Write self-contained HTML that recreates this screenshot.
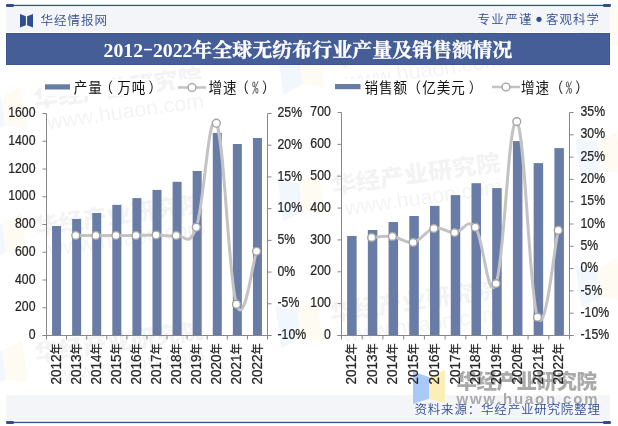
<!DOCTYPE html>
<html><head><meta charset="utf-8"><style>
html,body{margin:0;padding:0;background:#fff;}
text{text-spacing-trim:space-all;font-kerning:none;}
body{width:618px;height:426px;overflow:hidden;position:relative;}
svg{position:absolute;left:0;top:0;display:block;}
.ax{font-family:"Liberation Sans","Noto Sans CJK SC",sans-serif;font-size:14.5px;fill:#262626;stroke:#262626;stroke-width:0.25px;}
.lg{font-family:"Liberation Sans","Noto Sans CJK SC",sans-serif;font-size:14.3px;letter-spacing:0.96px;fill:#111;}
.pc{font-family:"IPAGothic",sans-serif;fill:#555;}
.hd{font-family:"Liberation Sans","Noto Sans CJK SC",sans-serif;font-size:12.5px;font-weight:350;fill:#2f4d8f;}
.tt{font-family:"Liberation Serif","Noto Serif CJK SC",serif;font-size:19.5px;font-weight:bold;fill:#fff;}
.nian{font-size:12px;}
.hy{font-family:"IPAGothic",sans-serif;font-weight:normal;}
.ttc{font-family:"Noto Serif CJK SC",serif;font-weight:700;stroke:#fff;stroke-width:0.35px;}
.wm{font-family:"Liberation Sans","Noto Sans CJK SC",sans-serif;}
</style></head><body>
<svg width="618" height="426" viewBox="0 0 618 426">
<rect width="618" height="426" fill="#fff"/>
<g transform="translate(35,108) rotate(-8)"><g opacity="0.22"><path d="M-53,-22.5 L-32.0,-15.46 L-32.0,12.96 L-53,20 Z" fill="#c9dbf8"/><path d="M-11,-24 L-32.0,-15.46 L-32.0,12.96 L-11,19.5 Z" fill="#fcf0c8"/></g><g opacity="0.042"><text x="0" y="0" class="wm" font-size="23" font-weight="900" textLength="170" lengthAdjust="spacingAndGlyphs">华经产业研究院</text><text x="10" y="23" class="wm" font-size="21" font-weight="400" textLength="158" lengthAdjust="spacingAndGlyphs">www.huaon.com</text></g></g><g transform="translate(36,235) rotate(-8)"><g opacity="0.22"><path d="M-53,-22.5 L-32.0,-15.46 L-32.0,12.96 L-53,20 Z" fill="#c9dbf8"/><path d="M-11,-24 L-32.0,-15.46 L-32.0,12.96 L-11,19.5 Z" fill="#fcf0c8"/></g><g opacity="0.042"><text x="0" y="0" class="wm" font-size="23" font-weight="900" textLength="170" lengthAdjust="spacingAndGlyphs">华经产业研究院</text><text x="10" y="23" class="wm" font-size="21" font-weight="400" textLength="158" lengthAdjust="spacingAndGlyphs">www.huaon.com</text></g></g><g transform="translate(36,362) rotate(-8)"><g opacity="0.22"><path d="M-53,-22.5 L-32.0,-15.46 L-32.0,12.96 L-53,20 Z" fill="#c9dbf8"/><path d="M-11,-24 L-32.0,-15.46 L-32.0,12.96 L-11,19.5 Z" fill="#fcf0c8"/></g><g opacity="0.042"><text x="0" y="0" class="wm" font-size="23" font-weight="900" textLength="170" lengthAdjust="spacingAndGlyphs">华经产业研究院</text><text x="10" y="23" class="wm" font-size="21" font-weight="400" textLength="158" lengthAdjust="spacingAndGlyphs">www.huaon.com</text></g></g><g transform="translate(333,194) rotate(-8)"><g opacity="0.22"><path d="M-53,-22.5 L-32.0,-15.46 L-32.0,12.96 L-53,20 Z" fill="#c9dbf8"/><path d="M-11,-24 L-32.0,-15.46 L-32.0,12.96 L-11,19.5 Z" fill="#fcf0c8"/></g><g opacity="0.042"><text x="0" y="0" class="wm" font-size="23" font-weight="900" textLength="170" lengthAdjust="spacingAndGlyphs">华经产业研究院</text><text x="10" y="23" class="wm" font-size="21" font-weight="400" textLength="158" lengthAdjust="spacingAndGlyphs">www.huaon.com</text></g></g><g transform="translate(331,321) rotate(-8)"><g opacity="0.22"><path d="M-53,-22.5 L-32.0,-15.46 L-32.0,12.96 L-53,20 Z" fill="#c9dbf8"/><path d="M-11,-24 L-32.0,-15.46 L-32.0,12.96 L-11,19.5 Z" fill="#fcf0c8"/></g><g opacity="0.042"><text x="0" y="0" class="wm" font-size="23" font-weight="900" textLength="170" lengthAdjust="spacingAndGlyphs">华经产业研究院</text><text x="10" y="23" class="wm" font-size="21" font-weight="400" textLength="158" lengthAdjust="spacingAndGlyphs">www.huaon.com</text></g></g><g transform="translate(333,67) rotate(-8)"><g opacity="0.22"><path d="M-53,-22.5 L-32.0,-15.46 L-32.0,12.96 L-53,20 Z" fill="#c9dbf8"/><path d="M-11,-24 L-32.0,-15.46 L-32.0,12.96 L-11,19.5 Z" fill="#fcf0c8"/></g><g opacity="0.042"><text x="0" y="0" class="wm" font-size="23" font-weight="900" textLength="170" lengthAdjust="spacingAndGlyphs">华经产业研究院</text><text x="10" y="23" class="wm" font-size="21" font-weight="400" textLength="158" lengthAdjust="spacingAndGlyphs">www.huaon.com</text></g></g><g transform="translate(631,153) rotate(-8)"><g opacity="0.22"><path d="M-53,-22.5 L-32.0,-15.46 L-32.0,12.96 L-53,20 Z" fill="#c9dbf8"/><path d="M-11,-24 L-32.0,-15.46 L-32.0,12.96 L-11,19.5 Z" fill="#fcf0c8"/></g><g opacity="0.042"><text x="0" y="0" class="wm" font-size="23" font-weight="900" textLength="170" lengthAdjust="spacingAndGlyphs">华经产业研究院</text><text x="10" y="23" class="wm" font-size="21" font-weight="400" textLength="158" lengthAdjust="spacingAndGlyphs">www.huaon.com</text></g></g><g transform="translate(631,280) rotate(-8)"><g opacity="0.22"><path d="M-53,-22.5 L-32.0,-15.46 L-32.0,12.96 L-53,20 Z" fill="#c9dbf8"/><path d="M-11,-24 L-32.0,-15.46 L-32.0,12.96 L-11,19.5 Z" fill="#fcf0c8"/></g><g opacity="0.042"><text x="0" y="0" class="wm" font-size="23" font-weight="900" textLength="170" lengthAdjust="spacingAndGlyphs">华经产业研究院</text><text x="10" y="23" class="wm" font-size="21" font-weight="400" textLength="158" lengthAdjust="spacingAndGlyphs">www.huaon.com</text></g></g><g transform="translate(631,26) rotate(-8)"><g opacity="0.22"><path d="M-53,-22.5 L-32.0,-15.46 L-32.0,12.96 L-53,20 Z" fill="#c9dbf8"/><path d="M-11,-24 L-32.0,-15.46 L-32.0,12.96 L-11,19.5 Z" fill="#fcf0c8"/></g><g opacity="0.042"><text x="0" y="0" class="wm" font-size="23" font-weight="900" textLength="170" lengthAdjust="spacingAndGlyphs">华经产业研究院</text><text x="10" y="23" class="wm" font-size="21" font-weight="400" textLength="158" lengthAdjust="spacingAndGlyphs">www.huaon.com</text></g></g>
<rect x="6" y="7" width="604" height="25" fill="#f4f5f9"/>
<rect x="6" y="4.8" width="604" height="1.3" fill="#2f4d8f"/>
<rect x="6" y="4" width="8" height="3" rx="1.2" fill="#2f4d8f"/>
<rect x="603" y="4" width="8" height="3" rx="1.2" fill="#2f4d8f"/>
<g opacity="1.0"><path d="M20,14 L25.9,16.295 L25.9,25.205 L20,27.5 Z" fill="#2f4d8f"/><path d="M33,14 L27.1,16.295 L27.1,25.205 L33,27.5 Z" fill="#2f4d8f"/></g>
<text x="40.5" y="24.6" class="hd" textLength="66.5" lengthAdjust="spacing">华经情报网</text>
<text x="477.5" y="24.3" class="hd" textLength="54" lengthAdjust="spacing">专业严谨</text>
<circle cx="539" cy="19.3" r="2.6" fill="#2f4d8f"/>
<text x="546" y="24.3" class="hd" textLength="53" lengthAdjust="spacing">客观科学</text>
<rect x="6.5" y="33.5" width="603" height="31" fill="#465e97" stroke="#3e5690" stroke-width="1"/>
<text x="103.5" y="57" class="tt"><tspan textLength="89" lengthAdjust="spacingAndGlyphs">2012<tspan class="hy">-</tspan>2022</tspan><tspan x="192.3" class="ttc" textLength="320" lengthAdjust="spacingAndGlyphs">年全球无纺布行业产量及销售额情况</tspan></text>
<rect x="6" y="395" width="604" height="25" fill="#f4f5f9"/>
<g opacity="1.0"><path d="M413,371.5 L429.0,376.94 L429.0,398.56 L413,404 Z" fill="#a9c9f7"/><path d="M445,370 L429.0,376.94 L429.0,398.56 L445,403.5 Z" fill="#fbeeb6"/></g><text x="456.5" y="388.5" class="wm" font-size="20.5" font-weight="900" fill="#aaaaaa" textLength="140.5" lengthAdjust="spacing">华经产业研究院</text><text x="456.5" y="403.5" class="wm" font-size="15" font-weight="700" fill="#aaaaaa" textLength="141" lengthAdjust="spacing">www.huaon.com</text>
<rect x="6" y="421.8" width="604" height="1.3" fill="#2f4d8f"/>
<rect x="6" y="421" width="8" height="3" rx="1.2" fill="#2f4d8f"/>
<rect x="603" y="421" width="8" height="3" rx="1.2" fill="#2f4d8f"/>
<text x="414.5" y="413.8" class="hd" textLength="185.5" lengthAdjust="spacing">资料来源：华经产业研究院整理</text>
<rect x="42" y="79" width="114" height="17" fill="#fff"/>
<rect x="175" y="79" width="94" height="17" fill="#fff"/>
<rect x="331" y="79" width="144" height="17" fill="#fff"/>
<rect x="489" y="79" width="94" height="17" fill="#fff"/>
<rect x="45" y="84.3" width="25" height="5.2" fill="#687ca6"/>
<text transform="translate(73.8,92.8) scale(0.95,1)" class="lg">产量<tspan dx="-3.47">（</tspan><tspan dx="3.47">万吨</tspan><tspan dx="2.32">）</tspan></text>
<path d="M178,87.5 H206" stroke="#c3c3c3" stroke-width="2.5"/><circle cx="192.0" cy="87.5" r="3.9" fill="#fff" stroke="#a3a3a3" stroke-width="1.4"/>
<text transform="translate(208.6,92.8) scale(0.95,1)" class="lg">增速<tspan dx="-2.42">（</tspan><tspan class="pc" dx="2.42">%</tspan><tspan dx="2.32">）</tspan></text>
<rect x="335" y="84" width="25.5" height="5.2" fill="#687ca6"/>
<text transform="translate(364.4,92.8) scale(0.95,1)" class="lg">销售额<tspan dx="-0.53">（</tspan><tspan dx="0.53">亿美元</tspan><tspan dx="3.05">）</tspan></text>
<path d="M492,87 H520" stroke="#c3c3c3" stroke-width="2.5"/><circle cx="506.0" cy="87" r="3.9" fill="#fff" stroke="#a3a3a3" stroke-width="1.4"/>
<text transform="translate(521,92.8) scale(0.95,1)" class="lg">增速<tspan dx="-0.32">（</tspan><tspan class="pc" dx="1.37">%</tspan><tspan dx="2.21">）</tspan></text>
<rect x="52.05" y="226.00" width="9.00" height="109.50" fill="#687ca6"/>
<rect x="72.14" y="219.00" width="9.00" height="116.50" fill="#687ca6"/>
<rect x="92.23" y="213.00" width="9.00" height="122.50" fill="#687ca6"/>
<rect x="112.32" y="204.90" width="9.00" height="130.60" fill="#687ca6"/>
<rect x="132.41" y="198.10" width="9.00" height="137.40" fill="#687ca6"/>
<rect x="152.50" y="189.90" width="9.00" height="145.60" fill="#687ca6"/>
<rect x="172.59" y="181.80" width="9.00" height="153.70" fill="#687ca6"/>
<rect x="192.68" y="171.00" width="9.00" height="164.50" fill="#687ca6"/>
<rect x="212.77" y="132.90" width="9.00" height="202.60" fill="#687ca6"/>
<rect x="232.86" y="144.00" width="9.00" height="191.50" fill="#687ca6"/>
<rect x="252.95" y="138.00" width="9.00" height="197.50" fill="#687ca6"/>
<path d="M46.5,113.5 V335.5 M267.5,113.5 V335.5 M42.5,335.5 H271.5" stroke="#878787" stroke-width="1" fill="none"/>
<path d="M42.5,335.50 H46.5 M42.5,307.75 H46.5 M42.5,280.00 H46.5 M42.5,252.25 H46.5 M42.5,224.50 H46.5 M42.5,196.75 H46.5 M42.5,169.00 H46.5 M42.5,141.25 H46.5 M42.5,113.50 H46.5 M267.5,335.50 H271.5 M267.5,303.79 H271.5 M267.5,272.07 H271.5 M267.5,240.36 H271.5 M267.5,208.64 H271.5 M267.5,176.93 H271.5 M267.5,145.21 H271.5 M267.5,113.50 H271.5 M46.50,335.5 V339.5 M66.59,335.5 V339.5 M86.68,335.5 V339.5 M106.77,335.5 V339.5 M126.86,335.5 V339.5 M146.95,335.5 V339.5 M167.05,335.5 V339.5 M187.14,335.5 V339.5 M207.23,335.5 V339.5 M227.32,335.5 V339.5 M247.41,335.5 V339.5 M267.50,335.5 V339.5" stroke="#878787" stroke-width="1" fill="none"/>
<text transform="translate(35.5,339.10) scale(0.847,1)" text-anchor="end" class="ax">0</text>
<text transform="translate(35.5,311.35) scale(0.847,1)" text-anchor="end" class="ax">200</text>
<text transform="translate(35.5,283.60) scale(0.847,1)" text-anchor="end" class="ax">400</text>
<text transform="translate(35.5,255.85) scale(0.847,1)" text-anchor="end" class="ax">600</text>
<text transform="translate(35.5,228.10) scale(0.847,1)" text-anchor="end" class="ax">800</text>
<text transform="translate(35.5,200.35) scale(0.847,1)" text-anchor="end" class="ax">1000</text>
<text transform="translate(35.5,172.60) scale(0.847,1)" text-anchor="end" class="ax">1200</text>
<text transform="translate(35.5,144.85) scale(0.847,1)" text-anchor="end" class="ax">1400</text>
<text transform="translate(35.5,117.10) scale(0.847,1)" text-anchor="end" class="ax">1600</text>
<text transform="translate(277.5,339.10) scale(0.847,1)" class="ax">-10%</text>
<text transform="translate(277.5,307.39) scale(0.847,1)" class="ax">-5%</text>
<text transform="translate(277.5,275.67) scale(0.847,1)" class="ax">0%</text>
<text transform="translate(277.5,243.96) scale(0.847,1)" class="ax">5%</text>
<text transform="translate(277.5,212.24) scale(0.847,1)" class="ax">10%</text>
<text transform="translate(277.5,180.53) scale(0.847,1)" class="ax">15%</text>
<text transform="translate(277.5,148.81) scale(0.847,1)" class="ax">20%</text>
<text transform="translate(277.5,117.10) scale(0.847,1)" class="ax">25%</text>
<text transform="translate(60.65,343.3) rotate(-90) scale(0.93,1)" text-anchor="end" class="ax">2012<tspan class="nian">年</tspan></text>
<text transform="translate(80.74,343.3) rotate(-90) scale(0.93,1)" text-anchor="end" class="ax">2013<tspan class="nian">年</tspan></text>
<text transform="translate(100.83,343.3) rotate(-90) scale(0.93,1)" text-anchor="end" class="ax">2014<tspan class="nian">年</tspan></text>
<text transform="translate(120.92,343.3) rotate(-90) scale(0.93,1)" text-anchor="end" class="ax">2015<tspan class="nian">年</tspan></text>
<text transform="translate(141.01,343.3) rotate(-90) scale(0.93,1)" text-anchor="end" class="ax">2016<tspan class="nian">年</tspan></text>
<text transform="translate(161.10,343.3) rotate(-90) scale(0.93,1)" text-anchor="end" class="ax">2017<tspan class="nian">年</tspan></text>
<text transform="translate(181.19,343.3) rotate(-90) scale(0.93,1)" text-anchor="end" class="ax">2018<tspan class="nian">年</tspan></text>
<text transform="translate(201.28,343.3) rotate(-90) scale(0.93,1)" text-anchor="end" class="ax">2019<tspan class="nian">年</tspan></text>
<text transform="translate(221.37,343.3) rotate(-90) scale(0.93,1)" text-anchor="end" class="ax">2020<tspan class="nian">年</tspan></text>
<text transform="translate(241.46,343.3) rotate(-90) scale(0.93,1)" text-anchor="end" class="ax">2021<tspan class="nian">年</tspan></text>
<text transform="translate(261.55,343.3) rotate(-90) scale(0.93,1)" text-anchor="end" class="ax">2022<tspan class="nian">年</tspan></text>
<path d="M75.74,235.40 C79.75,235.40 87.79,235.40 95.83,235.40 C103.86,235.40 107.88,235.40 115.92,235.40 C123.95,235.40 127.97,235.48 136.01,235.40 C144.05,235.32 148.06,235.00 156.10,235.00 C164.14,235.00 168.15,236.94 176.19,235.40 C184.23,233.86 188.25,249.74 196.28,227.30 C204.32,204.86 208.34,107.82 216.37,123.20 C224.41,138.58 228.43,278.58 236.46,304.20 C244.50,329.82 252.54,261.88 256.55,251.30" stroke="#c3c3c3" stroke-width="3.0" fill="none" stroke-linejoin="round"/>
<circle cx="75.74" cy="235.40" r="3.9" fill="#fff" stroke="#a3a3a3" stroke-width="1.4"/>
<circle cx="95.83" cy="235.40" r="3.9" fill="#fff" stroke="#a3a3a3" stroke-width="1.4"/>
<circle cx="115.92" cy="235.40" r="3.9" fill="#fff" stroke="#a3a3a3" stroke-width="1.4"/>
<circle cx="136.01" cy="235.40" r="3.9" fill="#fff" stroke="#a3a3a3" stroke-width="1.4"/>
<circle cx="156.10" cy="235.00" r="3.9" fill="#fff" stroke="#a3a3a3" stroke-width="1.4"/>
<circle cx="176.19" cy="235.40" r="3.9" fill="#fff" stroke="#a3a3a3" stroke-width="1.4"/>
<circle cx="196.28" cy="227.30" r="3.9" fill="#fff" stroke="#a3a3a3" stroke-width="1.4"/>
<circle cx="216.37" cy="123.20" r="3.9" fill="#fff" stroke="#a3a3a3" stroke-width="1.4"/>
<circle cx="236.46" cy="304.20" r="3.9" fill="#fff" stroke="#a3a3a3" stroke-width="1.4"/>
<circle cx="256.55" cy="251.30" r="3.9" fill="#fff" stroke="#a3a3a3" stroke-width="1.4"/>
<rect x="347.11" y="236.00" width="9.50" height="99.50" fill="#687ca6"/>
<rect x="367.84" y="230.00" width="9.50" height="105.50" fill="#687ca6"/>
<rect x="388.57" y="222.00" width="9.50" height="113.50" fill="#687ca6"/>
<rect x="409.30" y="216.00" width="9.50" height="119.50" fill="#687ca6"/>
<rect x="430.02" y="205.90" width="9.50" height="129.60" fill="#687ca6"/>
<rect x="450.75" y="195.10" width="9.50" height="140.40" fill="#687ca6"/>
<rect x="471.48" y="183.20" width="9.50" height="152.30" fill="#687ca6"/>
<rect x="492.20" y="188.10" width="9.50" height="147.40" fill="#687ca6"/>
<rect x="512.93" y="141.10" width="9.50" height="194.40" fill="#687ca6"/>
<rect x="533.66" y="163.10" width="9.50" height="172.40" fill="#687ca6"/>
<rect x="554.39" y="148.10" width="9.50" height="187.40" fill="#687ca6"/>
<path d="M341.5,112.5 V335.5 M569.5,112.5 V335.5 M337.5,335.5 H573.5" stroke="#878787" stroke-width="1" fill="none"/>
<path d="M337.5,335.50 H341.5 M337.5,303.64 H341.5 M337.5,271.79 H341.5 M337.5,239.93 H341.5 M337.5,208.07 H341.5 M337.5,176.21 H341.5 M337.5,144.36 H341.5 M337.5,112.50 H341.5 M569.5,335.50 H573.5 M569.5,313.20 H573.5 M569.5,290.90 H573.5 M569.5,268.60 H573.5 M569.5,246.30 H573.5 M569.5,224.00 H573.5 M569.5,201.70 H573.5 M569.5,179.40 H573.5 M569.5,157.10 H573.5 M569.5,134.80 H573.5 M569.5,112.50 H573.5 M341.50,335.5 V339.5 M362.23,335.5 V339.5 M382.95,335.5 V339.5 M403.68,335.5 V339.5 M424.41,335.5 V339.5 M445.14,335.5 V339.5 M465.86,335.5 V339.5 M486.59,335.5 V339.5 M507.32,335.5 V339.5 M528.05,335.5 V339.5 M548.77,335.5 V339.5 M569.50,335.5 V339.5" stroke="#878787" stroke-width="1" fill="none"/>
<text transform="translate(330.8,339.10) scale(0.847,1)" text-anchor="end" class="ax">0</text>
<text transform="translate(330.8,307.24) scale(0.847,1)" text-anchor="end" class="ax">100</text>
<text transform="translate(330.8,275.39) scale(0.847,1)" text-anchor="end" class="ax">200</text>
<text transform="translate(330.8,243.53) scale(0.847,1)" text-anchor="end" class="ax">300</text>
<text transform="translate(330.8,211.67) scale(0.847,1)" text-anchor="end" class="ax">400</text>
<text transform="translate(330.8,179.81) scale(0.847,1)" text-anchor="end" class="ax">500</text>
<text transform="translate(330.8,147.96) scale(0.847,1)" text-anchor="end" class="ax">600</text>
<text transform="translate(330.8,116.10) scale(0.847,1)" text-anchor="end" class="ax">700</text>
<text transform="translate(580.5,339.10) scale(0.847,1)" class="ax">-15%</text>
<text transform="translate(580.5,316.80) scale(0.847,1)" class="ax">-10%</text>
<text transform="translate(580.5,294.50) scale(0.847,1)" class="ax">-5%</text>
<text transform="translate(580.5,272.20) scale(0.847,1)" class="ax">0%</text>
<text transform="translate(580.5,249.90) scale(0.847,1)" class="ax">5%</text>
<text transform="translate(580.5,227.60) scale(0.847,1)" class="ax">10%</text>
<text transform="translate(580.5,205.30) scale(0.847,1)" class="ax">15%</text>
<text transform="translate(580.5,183.00) scale(0.847,1)" class="ax">20%</text>
<text transform="translate(580.5,160.70) scale(0.847,1)" class="ax">25%</text>
<text transform="translate(580.5,138.40) scale(0.847,1)" class="ax">30%</text>
<text transform="translate(580.5,116.10) scale(0.847,1)" class="ax">35%</text>
<text transform="translate(355.96,343.3) rotate(-90) scale(0.93,1)" text-anchor="end" class="ax">2012<tspan class="nian">年</tspan></text>
<text transform="translate(376.69,343.3) rotate(-90) scale(0.93,1)" text-anchor="end" class="ax">2013<tspan class="nian">年</tspan></text>
<text transform="translate(397.42,343.3) rotate(-90) scale(0.93,1)" text-anchor="end" class="ax">2014<tspan class="nian">年</tspan></text>
<text transform="translate(418.15,343.3) rotate(-90) scale(0.93,1)" text-anchor="end" class="ax">2015<tspan class="nian">年</tspan></text>
<text transform="translate(438.87,343.3) rotate(-90) scale(0.93,1)" text-anchor="end" class="ax">2016<tspan class="nian">年</tspan></text>
<text transform="translate(459.60,343.3) rotate(-90) scale(0.93,1)" text-anchor="end" class="ax">2017<tspan class="nian">年</tspan></text>
<text transform="translate(480.33,343.3) rotate(-90) scale(0.93,1)" text-anchor="end" class="ax">2018<tspan class="nian">年</tspan></text>
<text transform="translate(501.05,343.3) rotate(-90) scale(0.93,1)" text-anchor="end" class="ax">2019<tspan class="nian">年</tspan></text>
<text transform="translate(521.78,343.3) rotate(-90) scale(0.93,1)" text-anchor="end" class="ax">2020<tspan class="nian">年</tspan></text>
<text transform="translate(542.51,343.3) rotate(-90) scale(0.93,1)" text-anchor="end" class="ax">2021<tspan class="nian">年</tspan></text>
<text transform="translate(563.24,343.3) rotate(-90) scale(0.93,1)" text-anchor="end" class="ax">2022<tspan class="nian">年</tspan></text>
<path d="M371.69,237.40 C375.84,237.20 384.13,235.40 392.42,236.40 C400.71,237.40 404.85,244.00 413.15,242.40 C421.44,240.80 425.58,230.36 433.87,228.40 C442.16,226.44 446.31,232.84 454.60,232.60 C462.89,232.36 467.04,217.00 475.33,227.20 C483.62,237.40 487.76,304.72 496.05,283.60 C504.35,262.48 508.49,114.88 516.78,121.60 C525.07,128.32 529.22,295.48 537.51,317.20 C545.80,338.92 554.09,247.60 558.24,230.20" stroke="#c3c3c3" stroke-width="3.0" fill="none" stroke-linejoin="round"/>
<circle cx="371.69" cy="237.40" r="3.9" fill="#fff" stroke="#a3a3a3" stroke-width="1.4"/>
<circle cx="392.42" cy="236.40" r="3.9" fill="#fff" stroke="#a3a3a3" stroke-width="1.4"/>
<circle cx="413.15" cy="242.40" r="3.9" fill="#fff" stroke="#a3a3a3" stroke-width="1.4"/>
<circle cx="433.87" cy="228.40" r="3.9" fill="#fff" stroke="#a3a3a3" stroke-width="1.4"/>
<circle cx="454.60" cy="232.60" r="3.9" fill="#fff" stroke="#a3a3a3" stroke-width="1.4"/>
<circle cx="475.33" cy="227.20" r="3.9" fill="#fff" stroke="#a3a3a3" stroke-width="1.4"/>
<circle cx="496.05" cy="283.60" r="3.9" fill="#fff" stroke="#a3a3a3" stroke-width="1.4"/>
<circle cx="516.78" cy="121.60" r="3.9" fill="#fff" stroke="#a3a3a3" stroke-width="1.4"/>
<circle cx="537.51" cy="317.20" r="3.9" fill="#fff" stroke="#a3a3a3" stroke-width="1.4"/>
<circle cx="558.24" cy="230.20" r="3.9" fill="#fff" stroke="#a3a3a3" stroke-width="1.4"/>
</svg>
</body></html>
